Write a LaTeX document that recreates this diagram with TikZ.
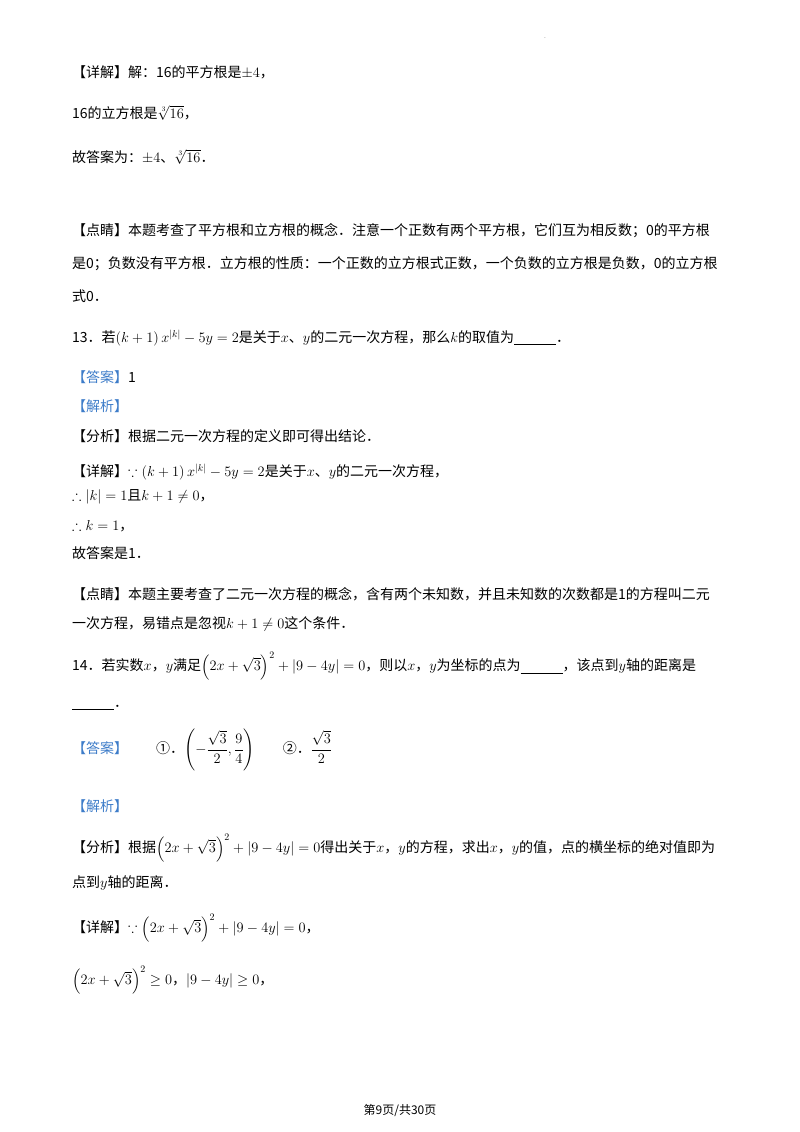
\documentclass[tikz,border=0pt]{standalone}
\usepackage{amsmath,amssymb}
\usepackage{fontspec}
\setmainfont{Noto Sans CJK SC}
\begin{document}
\begin{tikzpicture}[x=1pt,y=-1pt,
  t/.style={anchor=west,inner sep=0pt,font=\fontsize{14}{16}\selectfont},
  bl/.style={text=blu}]
\definecolor{blu}{HTML}{3D7CC9}
\useasboundingbox (0,0) rectangle (800,1132);
\fill[white] (0,0) rectangle (800,1132);
\node[inner sep=0pt,font=\tiny] (dot) at (545,38) {.};
\node[t] (l1) at (72,72) {【详解】解：16的平方根是$\pm4$，};
\node[t] (l2) at (72,113) {16的立方根是$\sqrt[3]{16}$，};
\node[t] (l3) at (72,157) {故答案为：$\pm4$、$\sqrt[3]{16}$．};
\node[t] (l4) at (72,231) {【点睛】本题考查了平方根和立方根的概念．注意一个正数有两个平方根，它们互为相反数；0的平方根};
\node[t] (l5) at (72,264) {是0；负数没有平方根．立方根的性质：一个正数的立方根式正数，一个负数的立方根是负数，0的立方根};
\node[t] (l6) at (72,296) {式0．};
\node[t] (l7) at (72,338) {13．若$\left(k+1\right)x^{|k|}-5y=2$是关于$x$、$y$的二元一次方程，那么$k$的取值为\underline{\hspace{3em}}．};
\node[t] (l8) at (72,377) {\textcolor{blu}{【答案】}1};
\node[t,bl] (l9) at (72,406) {【解析】};
\node[t] (l10) at (72,436) {【分析】根据二元一次方程的定义即可得出结论．};
\node[t] (l11) at (72,472) {【详解】$\because\left(k+1\right)x^{|k|}-5y=2$是关于$x$、$y$的二元一次方程，};
\node[t] (l12) at (72,497) {$\therefore\left|k\right|=1$且$k+1\neq0$，};
\node[t] (l13) at (72,526) {$\therefore k=1$，};
\node[t] (l14) at (72,553) {故答案是1．};
\node[t] (l15) at (72,594) {【点睛】本题主要考查了二元一次方程的概念，含有两个未知数，并且未知数的次数都是1的方程叫二元};
\node[t] (l16) at (72,624) {一次方程，易错点是忽视$k+1\neq0$这个条件．};
\node[t] (l17) at (72,666) {14．若实数$x$，$y$满足$\left(2x+\sqrt{3}\right)^2+\left|9-4y\right|=0$，则以$x$，$y$为坐标的点为\underline{\hspace{3em}}，该点到$y$轴的距离是};
\node[t] (l18) at (72,708) {\underline{\hspace{3em}}．};
\node[t] (l19) at (72,750) {\textcolor{blu}{【答案】}\hspace{2em}①．$\left(-\dfrac{\sqrt3}{2},\dfrac94\right)$\hspace{2em}②．$\dfrac{\sqrt3}{2}$};
\node[t,bl] (l20) at (72,806) {【解析】};
\node[t] (l21) at (72,848) {【分析】根据$\left(2x+\sqrt{3}\right)^2+\left|9-4y\right|=0$得出关于$x$，$y$的方程，求出$x$，$y$的值，点的横坐标的绝对值即为};
\node[t] (l22) at (72,883) {点到$y$轴的距离．};
\node[t] (l23) at (72,928) {【详解】$\because\left(2x+\sqrt{3}\right)^2+\left|9-4y\right|=0$，};
\node[t] (l24) at (72,980) {$\left(2x+\sqrt{3}\right)^2\geq0$，$\left|9-4y\right|\geq0$，};
\node[inner sep=0pt,font=\fontsize{12}{14}\selectfont] (foot) at (400,1110) {第9页/共30页};
\end{tikzpicture}
\end{document}
